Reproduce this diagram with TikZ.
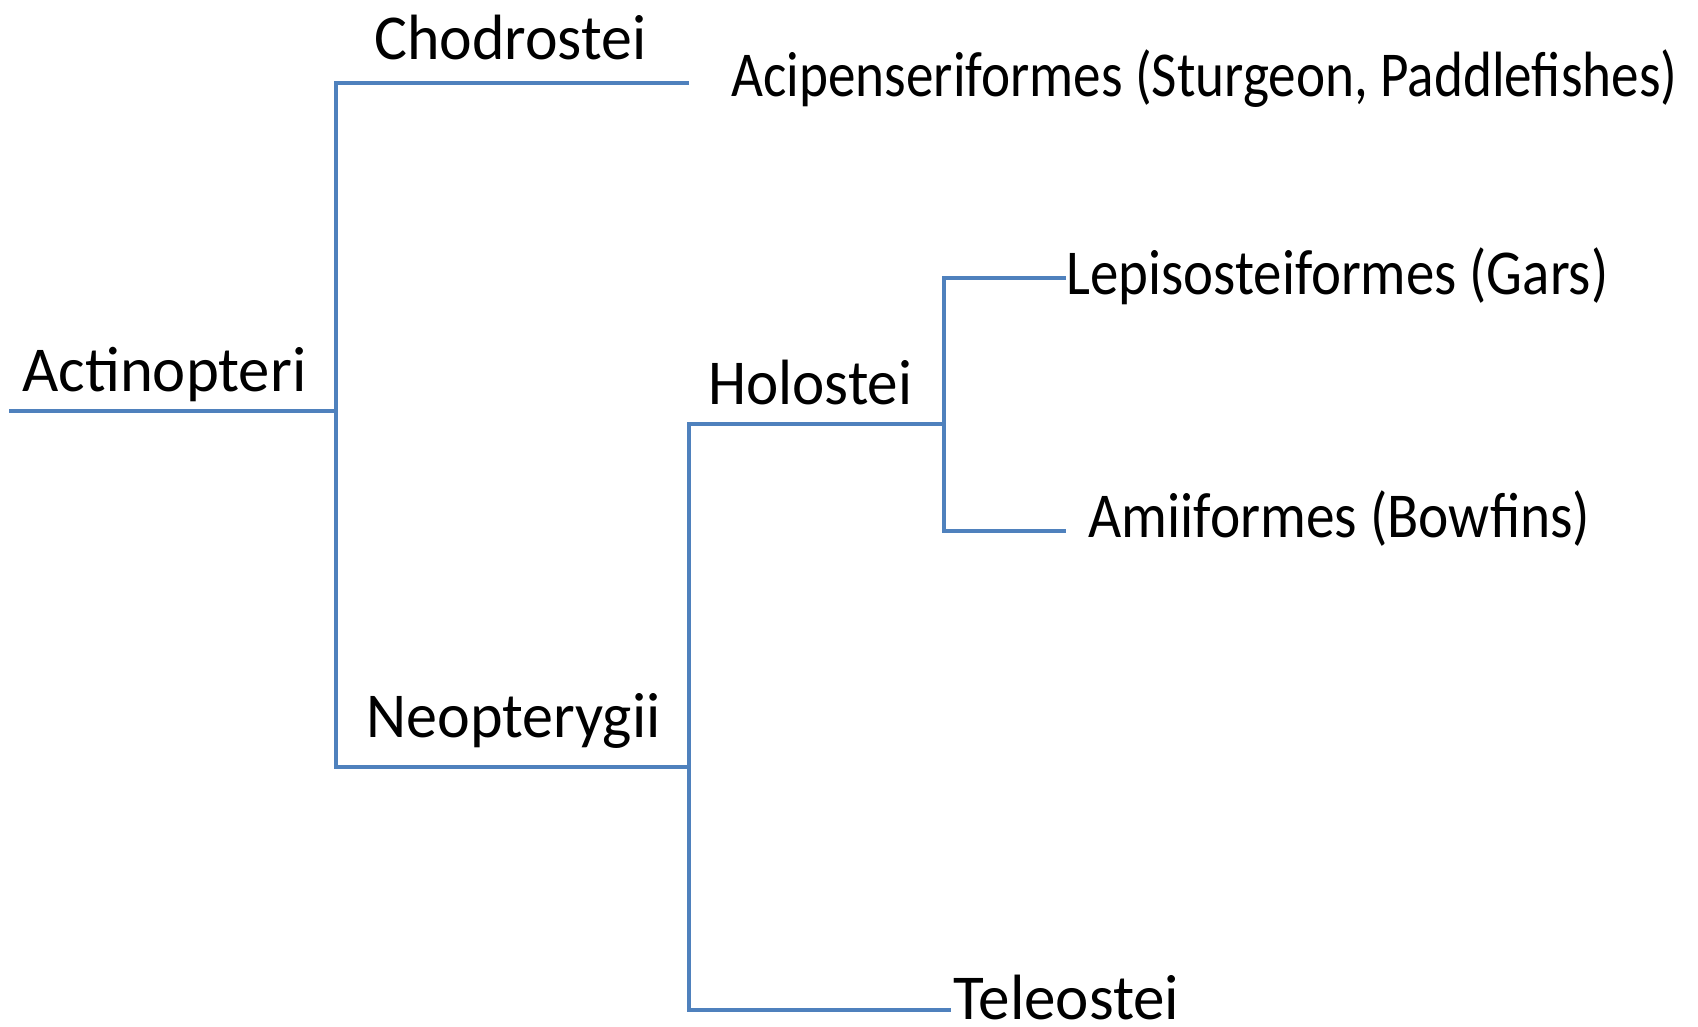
\documentclass[tikz,border=0pt]{standalone}
\usepackage{fontspec}
\setmainfont{Carlito}
\usepackage{graphicx}
\usepackage{tikz}
\definecolor{cladeblue}{HTML}{4F81BD}
\newcommand{\taxfit}[2]{\resizebox{#1}{\height}{#2}}
\tikzset{
  branch/.style={cladeblue,line width=2.3pt},
  taxon/.style={anchor=base west,inner sep=0pt,font=\fontsize{32}{38}\selectfont}
}

\begin{document}
\begin{tikzpicture}[x=0.5pt,y=-0.5pt]
    \useasboundingbox (0,0) rectangle (1698,1027);
    % junctions
    \coordinate (root) at (9,411);
    \coordinate (actinJ) at (336,411);
    \coordinate (chodJ) at (689,83);
    \coordinate (neoJ) at (689,767);
    \coordinate (holJ) at (944,424);
    \coordinate (lepiJ) at (1066,278);
    \coordinate (amiiJ) at (1066,531);
    \coordinate (teleJ) at (951,1010);
    % branches
    \draw[branch] (root) -- (actinJ);
    \draw[branch] (chodJ) -| (actinJ) |- (neoJ);
    \draw[branch] (holJ) -| (neoJ) |- (teleJ);
    \draw[branch] (lepiJ) -| (holJ) |- (amiiJ);
    % names
    \node[taxon] (actin) at (22,392) {\taxfit{142pt}{Actinopteri}};
    \node[taxon] (chod) at (374,60) {\taxfit{136pt}{Chodrostei}};
    \node[taxon] (acip) at (731,97) {\taxfit{473pt}{Acipenseriformes (Sturgeon, Paddlefishes)}};
    \node[taxon] (neo) at (366,737) {\taxfit{147pt}{Neopterygii}};
    \node[taxon] (hol) at (708,404) {\taxfit{102pt}{Holostei}};
    \node[taxon] (lepi) at (1066,295) {\taxfit{271pt}{Lepisosteiformes (Gars)}};
    \node[taxon] (amii) at (1088,537) {\taxfit{251pt}{Amiiformes (Bowfins)}};
    \node[taxon] (tele) at (953,1019) {\taxfit{113pt}{Teleostei}};
\end{tikzpicture}
\end{document}
